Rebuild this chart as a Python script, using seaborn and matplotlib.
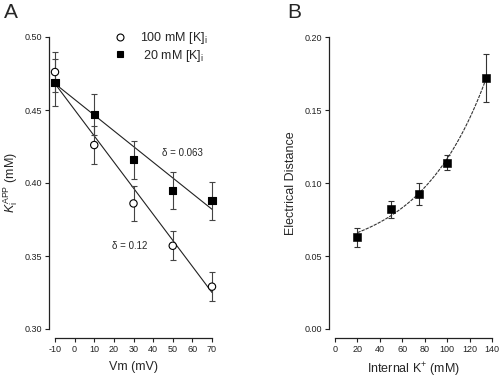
import numpy as np
import pandas as pd
import matplotlib
matplotlib.use("Agg")
import matplotlib.pyplot as plt
import seaborn as sns
from matplotlib.lines import Line2D

# ---- Panel A data ----
vm = [-10, 10, 30, 50, 70]
k100 = [0.476, 0.426, 0.386, 0.357, 0.329]
k100_err = [0.014, 0.013, 0.012, 0.010, 0.010]
k20 = [0.469, 0.447, 0.416, 0.395, 0.388]
k20_err = [0.016, 0.014, 0.013, 0.0125, 0.013]
fit_vm = [-10, 70]
fit_k100 = [0.468, 0.325]
fit_k20 = [0.468, 0.382]
xticks_a = [-10, 0, 10, 20, 30, 40, 50, 60, 70]
yticks_a = [0.30, 0.35, 0.40, 0.45, 0.50]

# ---- Panel B data ----
kin = [20, 50, 75, 100, 135]
dist = [0.063, 0.082, 0.0925, 0.114, 0.172]
dist_err = [0.0065, 0.006, 0.0075, 0.005, 0.0165]
fit_a, fit_b, fit_c = 0.0485, 0.01248, 0.01698
xticks_b = [0, 20, 40, 60, 80, 100, 120, 140]
yticks_b = [0.00, 0.05, 0.10, 0.15, 0.20]

sns.set_style("ticks")
plt.rcParams['font.family'] = ['Liberation Sans', 'DejaVu Sans']
plt.rcParams['mathtext.fontset'] = 'custom'
plt.rcParams['mathtext.rm'] = 'Liberation Sans'
plt.rcParams['mathtext.it'] = 'Liberation Sans:italic'
plt.rcParams['axes.unicode_minus'] = False

fig = plt.figure(figsize=(5, 3.8), dpi=100)
W, H = 500, 380
axA = fig.add_axes([55 / W, 1 - 329 / H, 157 / W, 292 / H])
axB = fig.add_axes([335 / W, 1 - 329 / H, 157 / W, 292 / H])

def style(ax):
    sns.despine(ax=ax)
    ax.spines['left'].set_position(('outward', 4.5))
    ax.spines['bottom'].set_position(('outward', 6.5))
    for s in ('left', 'bottom'):
        ax.spines[s].set_linewidth(0.9)
        ax.spines[s].set_color('#222222')
    ax.tick_params(axis='both', direction='out', length=3, width=0.8,
                   labelsize=6.5, colors='#222222', pad=2)
    ax.set_facecolor('white')

# Panel A
dfA = pd.DataFrame({'vm': vm * 2, 'k': k100 + k20,
                    'group': ['100'] * 5 + ['20'] * 5})
dfFit = pd.DataFrame({'vm': fit_vm * 2, 'k': fit_k100 + fit_k20,
                      'group': ['100'] * 2 + ['20'] * 2})
for g, d in dfFit.groupby('group'):
    sns.lineplot(data=d, x='vm', y='k', ax=axA, color='#222222', lw=0.8)
axA.errorbar(vm, k100, yerr=k100_err, fmt='none', ecolor='#444444',
             elinewidth=0.8, capsize=2.5, capthick=0.8, zorder=2, clip_on=False)
axA.errorbar(vm, k20, yerr=k20_err, fmt='none', ecolor='#444444',
             elinewidth=0.8, capsize=2.5, capthick=0.8, zorder=2, clip_on=False)
sns.scatterplot(data=dfA, x='vm', y='k', hue='group', style='group',
                markers={'100': 'o', '20': 's'},
                palette={'100': 'white', '20': 'black'},
                edgecolor='black', linewidth=0.8, s=28, ax=axA, zorder=3,
                legend=False, clip_on=False)
axA.set_xlim(-10, 70)
axA.set_ylim(0.30, 0.50)
axA.set_xticks(xticks_a)
axA.set_yticks(yticks_a)
axA.set_yticklabels([f"{v:.2f}" for v in yticks_a])
style(axA)
axA.set_xlabel('Vm (mV)', fontsize=9, labelpad=5)
axA.set_ylabel(r'$K_\mathrm{i}^\mathrm{APP}$ (mM)', fontsize=9, labelpad=3)
axA.text(55, 0.4205, 'δ = 0.063', fontsize=7, ha='center', va='center')
axA.text(28, 0.357, 'δ = 0.12', fontsize=7, ha='center', va='center')
h1 = Line2D([], [], marker='o', ls='none', mfc='white', mec='black', ms=5, mew=0.8)
h2 = Line2D([], [], marker='s', ls='none', mfc='black', mec='black', ms=5, mew=0.8)
axA.legend([h1, h2], [r'100 mM [K]$_\mathrm{i}$', r' 20 mM [K]$_\mathrm{i}$'],
           frameon=False, loc='upper left', bbox_to_anchor=(0.3, 1.04),
           fontsize=9, handletextpad=0.6, labelspacing=0.1, borderaxespad=0)

# Panel B
xs = np.linspace(kin[0], kin[-1], 100)
dfB = pd.DataFrame({'x': xs, 'y': fit_a + fit_b * np.exp(fit_c * xs)})
sns.lineplot(data=dfB, x='x', y='y', ax=axB, color='#333333', lw=0.8,
             linestyle=(0, (3, 1)))
axB.errorbar(kin, dist, yerr=dist_err, fmt='none', ecolor='#333333',
             elinewidth=0.8, capsize=2.5, capthick=0.8, zorder=2)
sns.scatterplot(x=kin, y=dist, marker='s', color='black', s=28, ax=axB,
                zorder=3, edgecolor='black')
axB.set_xlim(0, 140)
axB.set_ylim(0, 0.20)
axB.set_xticks(xticks_b)
axB.set_yticks(yticks_b)
axB.set_yticklabels([f"{v:.2f}" for v in yticks_b])
style(axB)
axB.set_xlabel(r'Internal K$^{+}$ (mM)', fontsize=9, labelpad=5)
axB.set_ylabel('Electrical Distance', fontsize=9, labelpad=5)

fig.text(4 / W, 1 - 12 / H, 'A', fontsize=15, va='center', ha='left')
fig.text(287 / W, 1 - 12 / H, 'B', fontsize=15, va='center', ha='left')

fig.savefig('out.png', dpi=100, facecolor='white')
